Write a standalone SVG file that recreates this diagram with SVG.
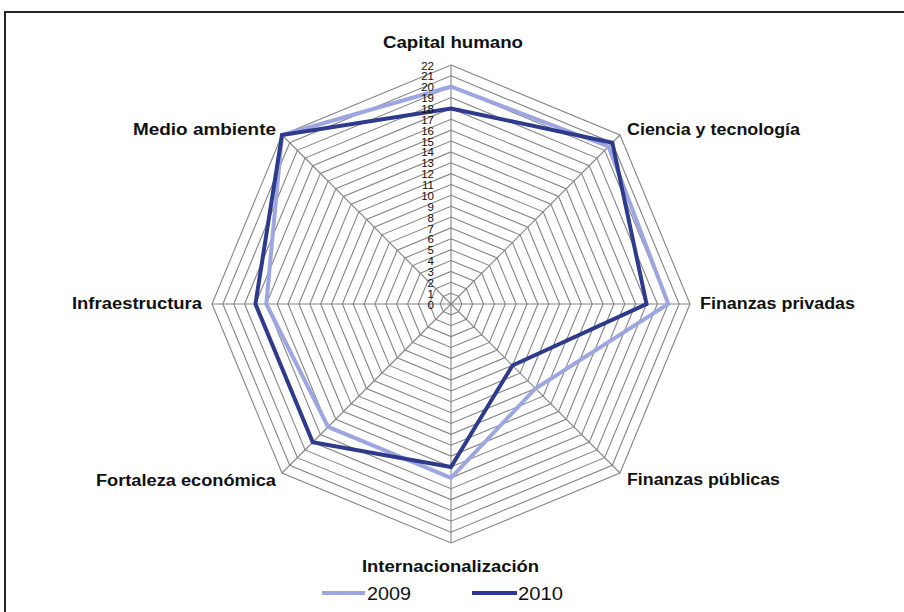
<svg xmlns="http://www.w3.org/2000/svg" width="904" height="612" viewBox="0 0 904 612">
<style>
.grid{fill:none;stroke:#858585;stroke-width:1.1}
.spoke{stroke:#858585;stroke-width:1.1}
.lbl{font-family:"Liberation Sans",Arial,sans-serif;font-weight:bold;font-size:16px;fill:#111}
.num{font-family:"Liberation Sans",Arial,sans-serif;font-size:11.5px;fill:#111;text-anchor:end}
.leg{font-family:"Liberation Sans",Arial,sans-serif;font-size:19px;fill:#111}
.s2009{fill:none;stroke:#9da6e0;stroke-width:4;stroke-linejoin:miter}
.s2010{fill:none;stroke:#2e3a8c;stroke-width:4;stroke-linejoin:miter}
</style>
<rect x="0" y="0" width="904" height="612" fill="#fff"/>
<path d="M5,612 V12 H904" fill="none" stroke="#222" stroke-width="2"/>
<g id="grid" transform="translate(451 304)">
<polygon class="grid" points="0,-10.86 7.68,-7.68 10.86,0 7.68,7.68 0,10.86 -7.68,7.68 -10.86,0 -7.68,-7.68"/>
<polygon class="grid" points="0,-21.73 15.36,-15.36 21.73,0 15.36,15.36 0,21.73 -15.36,15.36 -21.73,0 -15.36,-15.36"/>
<polygon class="grid" points="0,-32.59 23.05,-23.05 32.59,0 23.05,23.05 0,32.59 -23.05,23.05 -32.59,0 -23.05,-23.05"/>
<polygon class="grid" points="0,-43.45 30.73,-30.73 43.45,0 30.73,30.73 0,43.45 -30.73,30.73 -43.45,0 -30.73,-30.73"/>
<polygon class="grid" points="0,-54.32 38.41,-38.41 54.32,0 38.41,38.41 0,54.32 -38.41,38.41 -54.32,0 -38.41,-38.41"/>
<polygon class="grid" points="0,-65.18 46.09,-46.09 65.18,0 46.09,46.09 0,65.18 -46.09,46.09 -65.18,0 -46.09,-46.09"/>
<polygon class="grid" points="0,-76.05 53.77,-53.77 76.05,0 53.77,53.77 0,76.05 -53.77,53.77 -76.05,0 -53.77,-53.77"/>
<polygon class="grid" points="0,-86.91 61.45,-61.45 86.91,0 61.45,61.45 0,86.91 -61.45,61.45 -86.91,0 -61.45,-61.45"/>
<polygon class="grid" points="0,-97.77 69.14,-69.14 97.77,0 69.14,69.14 0,97.77 -69.14,69.14 -97.77,0 -69.14,-69.14"/>
<polygon class="grid" points="0,-108.64 76.82,-76.82 108.64,0 76.82,76.82 0,108.64 -76.82,76.82 -108.64,0 -76.82,-76.82"/>
<polygon class="grid" points="0,-119.5 84.5,-84.5 119.5,0 84.5,84.5 0,119.5 -84.5,84.5 -119.5,0 -84.5,-84.5"/>
<polygon class="grid" points="0,-130.36 92.18,-92.18 130.36,0 92.18,92.18 0,130.36 -92.18,92.18 -130.36,0 -92.18,-92.18"/>
<polygon class="grid" points="0,-141.23 99.86,-99.86 141.23,0 99.86,99.86 0,141.23 -99.86,99.86 -141.23,0 -99.86,-99.86"/>
<polygon class="grid" points="0,-152.09 107.55,-107.55 152.09,0 107.55,107.55 0,152.09 -107.55,107.55 -152.09,0 -107.55,-107.55"/>
<polygon class="grid" points="0,-162.95 115.23,-115.23 162.95,0 115.23,115.23 0,162.95 -115.23,115.23 -162.95,0 -115.23,-115.23"/>
<polygon class="grid" points="0,-173.82 122.91,-122.91 173.82,0 122.91,122.91 0,173.82 -122.91,122.91 -173.82,0 -122.91,-122.91"/>
<polygon class="grid" points="0,-184.68 130.59,-130.59 184.68,0 130.59,130.59 0,184.68 -130.59,130.59 -184.68,0 -130.59,-130.59"/>
<polygon class="grid" points="0,-195.55 138.27,-138.27 195.55,0 138.27,138.27 0,195.55 -138.27,138.27 -195.55,0 -138.27,-138.27"/>
<polygon class="grid" points="0,-206.41 145.95,-145.95 206.41,0 145.95,145.95 0,206.41 -145.95,145.95 -206.41,0 -145.95,-145.95"/>
<polygon class="grid" points="0,-217.27 153.64,-153.64 217.27,0 153.64,153.64 0,217.27 -153.64,153.64 -217.27,0 -153.64,-153.64"/>
<polygon class="grid" points="0,-228.14 161.32,-161.32 228.14,0 161.32,161.32 0,228.14 -161.32,161.32 -228.14,0 -161.32,-161.32"/>
<polygon class="grid" points="0,-239 169,-169 239,0 169,169 0,239 -169,169 -239,0 -169,-169"/>
<line class="spoke" x1="0" y1="0" x2="0" y2="-239"/>
<line class="spoke" x1="0" y1="0" x2="169" y2="-169"/>
<line class="spoke" x1="0" y1="0" x2="239" y2="0"/>
<line class="spoke" x1="0" y1="0" x2="169" y2="169"/>
<line class="spoke" x1="0" y1="0" x2="0" y2="239"/>
<line class="spoke" x1="0" y1="0" x2="-169" y2="169"/>
<line class="spoke" x1="0" y1="0" x2="-239" y2="0"/>
<line class="spoke" x1="0" y1="0" x2="-169" y2="-169"/>
</g>
<g id="series" transform="translate(451 304)">
<polygon id="s2009" class="s2009" points="0,-217.27 157.5,-157.5 217.27,0 84.5,84.5 0,173.82 -122.91,122.91 -184.68,0 -169,-169"/>
<polygon id="s2010" class="s2010" points="0,-195.55 161.32,-161.32 195.55,0 61.45,61.45 0,162.95 -138.27,138.27 -195.55,0 -169,-169"/>
</g>
<g id="scale">
<text class="num" x="434" y="308.5">0</text>
<text class="num" x="434" y="297.6">1</text>
<text class="num" x="434" y="286.8">2</text>
<text class="num" x="434" y="275.9">3</text>
<text class="num" x="434" y="265">4</text>
<text class="num" x="434" y="254.2">5</text>
<text class="num" x="434" y="243.3">6</text>
<text class="num" x="434" y="232.5">7</text>
<text class="num" x="434" y="221.6">8</text>
<text class="num" x="434" y="210.7">9</text>
<text class="num" x="434" y="199.9">10</text>
<text class="num" x="434" y="189">11</text>
<text class="num" x="434" y="178.1">12</text>
<text class="num" x="434" y="167.3">13</text>
<text class="num" x="434" y="156.4">14</text>
<text class="num" x="434" y="145.5">15</text>
<text class="num" x="434" y="134.7">16</text>
<text class="num" x="434" y="123.8">17</text>
<text class="num" x="434" y="113">18</text>
<text class="num" x="434" y="102.1">19</text>
<text class="num" x="434" y="91.2">20</text>
<text class="num" x="434" y="80.4">21</text>
<text class="num" x="434" y="69.5">22</text>
</g>
<g id="label-capital"><text class="lbl" x="383" y="48" textLength="140" lengthAdjust="spacingAndGlyphs">Capital humano</text></g>
<g id="label-ciencia"><text class="lbl" x="627" y="135" textLength="173" lengthAdjust="spacingAndGlyphs">Ciencia y tecnología</text></g>
<g id="label-fprivadas"><text class="lbl" x="700" y="309" textLength="155" lengthAdjust="spacingAndGlyphs">Finanzas privadas</text></g>
<g id="label-fpublicas"><text class="lbl" x="627" y="485" textLength="153" lengthAdjust="spacingAndGlyphs">Finanzas públicas</text></g>
<g id="label-intern"><text class="lbl" x="362" y="572" textLength="177" lengthAdjust="spacingAndGlyphs">Internacionalización</text></g>
<g id="label-fortaleza"><text class="lbl" x="96" y="486" textLength="180" lengthAdjust="spacingAndGlyphs">Fortaleza económica</text></g>
<g id="label-infra"><text class="lbl" x="72" y="309" textLength="130" lengthAdjust="spacingAndGlyphs">Infraestructura</text></g>
<g id="label-medio"><text class="lbl" x="133" y="135" textLength="143" lengthAdjust="spacingAndGlyphs">Medio ambiente</text></g>
<g id="legend">
<line x1="322" y1="593" x2="365" y2="593" stroke="#9da6e0" stroke-width="4"/>
<text class="leg" x="367" y="600" textLength="44" lengthAdjust="spacingAndGlyphs">2009</text>
<line x1="472" y1="593" x2="517" y2="593" stroke="#2e3a8c" stroke-width="4"/>
<text class="leg" x="518" y="600" textLength="45" lengthAdjust="spacingAndGlyphs">2010</text>
</g>
</svg>
